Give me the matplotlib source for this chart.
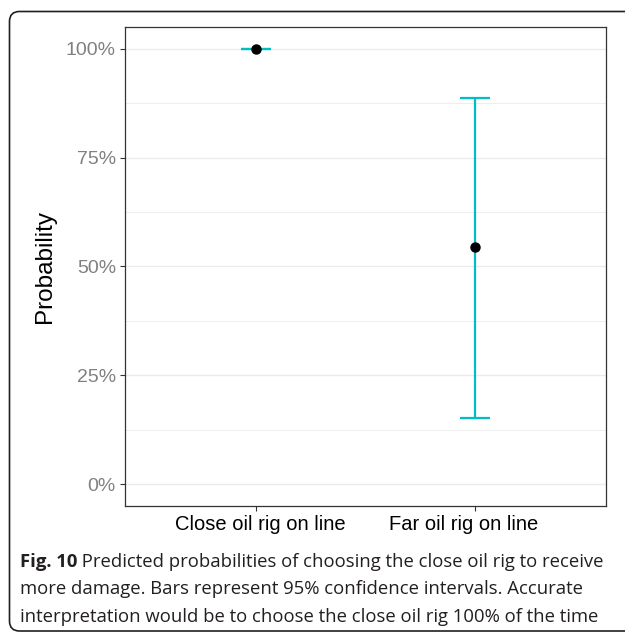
import matplotlib
matplotlib.use("Agg")
import matplotlib.pyplot as plt
import matplotlib.transforms as mtransforms
from matplotlib.patches import FancyBboxPatch
from matplotlib.ticker import FixedLocator, PercentFormatter

# Predicted probabilities with 95% CI
conditions = ["Close oil rig on line", "Far oil rig on line"]
prob = [1.0, 0.545]
ci_low = [1.0, 0.153]
ci_high = [1.0, 0.886]

TEAL = "#00BFC4"
CAPTION = [
    "more damage. Bars represent 95% confidence intervals. Accurate",
    "interpretation would be to choose the close oil rig 100% of the time",
]

fig = plt.figure(figsize=(6.25, 6.32), dpi=100)
ax = fig.add_axes([0.2, 0.1994, 0.7696, 0.7579])

xpos = [1, 2]
ax.vlines(xpos, ci_low, ci_high, color=TEAL, lw=1.6, zorder=3)
ax.hlines(ci_low, [x - 0.07 for x in xpos], [x + 0.07 for x in xpos], color=TEAL, lw=1.6, zorder=3)
ax.hlines(ci_high, [x - 0.07 for x in xpos], [x + 0.07 for x in xpos], color=TEAL, lw=1.6, zorder=3)
ax.plot(xpos, prob, "o", color="black", ms=6.5, zorder=4)

ax.set_xlim(0.4, 2.6)
ax.set_ylim(-0.05, 1.05)
ax.set_xticks(xpos)
ax.set_xticklabels([])
# category labels, nudged slightly off their ticks
for x, name, dx in zip(xpos, conditions, [4, -11]):
    tr = ax.get_xaxis_transform() + mtransforms.ScaledTranslation(
        dx / 100, -9 / 100, fig.dpi_scale_trans)
    ax.text(x, 0, name, transform=tr, ha="center", va="top", fontsize=14.5,
            family="Liberation Sans", color="black")
ax.set_yticks([0, 0.25, 0.5, 0.75, 1.0])
ax.yaxis.set_major_formatter(PercentFormatter(1.0, decimals=0))
ax.yaxis.set_minor_locator(FixedLocator([0.125, 0.375, 0.625, 0.875]))
for lbl in ax.get_yticklabels():
    lbl.set_family("Liberation Sans")
    lbl.set_fontsize(14)
    lbl.set_color("#808080")

ax.grid(axis="y", which="major", color="#EBEBEB", lw=1.0)
ax.grid(axis="y", which="minor", color="#EBEBEB", lw=0.6)
ax.set_axisbelow(True)
ax.tick_params(axis="both", which="major", length=3.5, width=0.8, color="#333333", pad=3)
ax.tick_params(axis="y", which="minor", length=0)
for sp in ax.spines.values():
    sp.set_color("#333333")
    sp.set_linewidth(0.9)

ax.set_ylabel("Probability", fontsize=17.5, family="Liberation Sans", labelpad=7)

# caption with bold figure number
y0 = 1 - 567 / 632
cap = fig.text(20 / 625, y0, "Fig. 10", fontsize=13.3, family="Open Sans",
               fontweight="bold", color="#231F20", va="baseline")
fig.canvas.draw()
bb = cap.get_window_extent()
fig.text(bb.x1 / fig.bbox.width, y0,
         " Predicted probabilities of choosing the close oil rig to receive",
         fontsize=13.3, family="Open Sans", color="#231F20", va="baseline")
for i, line in enumerate(CAPTION):
    fig.text(20 / 625, 1 - (567 + 27.5 * (i + 1)) / 632, line, fontsize=13.3,
             family="Open Sans", color="#231F20", va="baseline")

# rounded frame around the figure panel
frame = FancyBboxPatch((9.5 / 100, 1.0 / 100), 7.0, (632 - 11 - 1.5) / 100,
                       boxstyle="round,pad=0,rounding_size=0.1",
                       transform=fig.dpi_scale_trans, fill=False,
                       ec="#231F20", lw=1.2)
fig.patches.append(frame)

fig.savefig("out.png", dpi=100)
